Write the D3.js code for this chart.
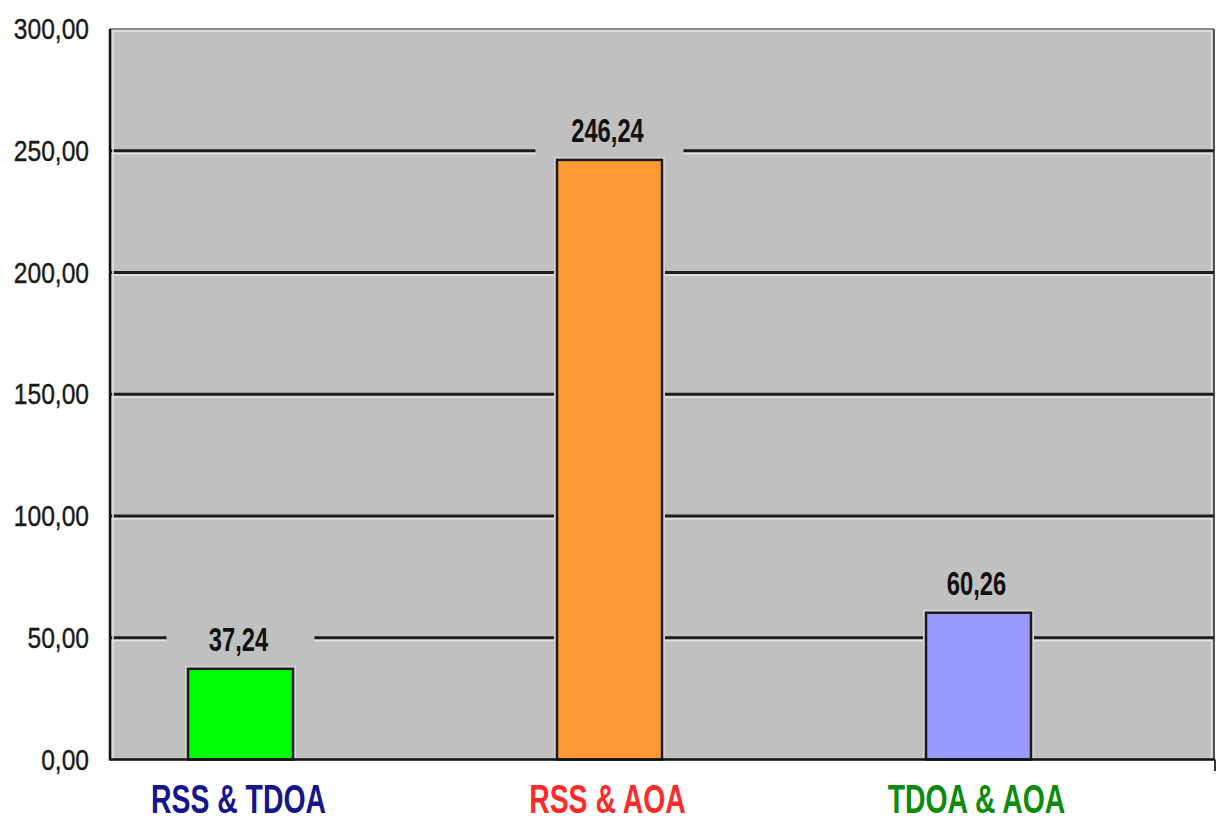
<!DOCTYPE html>
<html>
<head>
<meta charset="utf-8">
<script src="https://cdn.jsdelivr.net/npm/d3@7"></script>
<style>
  html, body { margin: 0; padding: 0; background: #fff; }
  svg { display: block; }
</style>
</head>
<body>
<svg id="chart" width="1217" height="823"></svg>
<script>
// Localization method pairs and their measured values
const categories = ["RSS & TDOA", "RSS & AOA", "TDOA & AOA"];
const values = [37.24, 246.24, 60.26];
const barColors = ["#00ff00", "#ff9933", "#9999ff"];
const labelColors = ["#16168c", "#ff2b2b", "#0e8a0e"];
const yTicks = [0, 50, 100, 150, 200, 250, 300];

const fmt = v => v.toFixed(2).replace(".", ",");

const svg = d3.select("#chart");
const plotLeft = 110, plotRight = 1214, plotTop = 29, plotBottom = 759.5;

const y = d3.scaleLinear().domain([0, 300]).range([plotBottom, plotTop]);
const x = d3.scalePoint().domain(categories).range([240.5, 978.5]);
const barW = 105;

// plot background
svg.append("rect")
  .attr("x", plotLeft).attr("y", plotTop)
  .attr("width", plotRight - plotLeft).attr("height", plotBottom - plotTop)
  .attr("fill", "#c0c0c0");

// frame: top and right borders with inner highlights
svg.append("line").attr("x1", plotLeft).attr("x2", plotRight).attr("y1", plotTop).attr("y2", plotTop)
  .attr("stroke", "#8a8a8a").attr("stroke-width", 2);
svg.append("line").attr("x1", plotLeft).attr("x2", plotRight - 2).attr("y1", plotTop + 2).attr("y2", plotTop + 2)
  .attr("stroke", "#e4e4e4").attr("stroke-width", 1.5);
svg.append("line").attr("x1", plotRight).attr("x2", plotRight).attr("y1", plotTop).attr("y2", plotBottom)
  .attr("stroke", "#555").attr("stroke-width", 2);
svg.append("line").attr("x1", plotRight - 2.5).attr("x2", plotRight - 2.5).attr("y1", plotTop + 2).attr("y2", plotBottom)
  .attr("stroke", "#e4e4e4").attr("stroke-width", 1.5);

// horizontal grid lines (engraved look)
const grid = svg.append("g");
yTicks.filter(t => t > 0 && t < 300).forEach(t => {
  grid.append("line").attr("x1", plotLeft).attr("x2", plotRight).attr("y1", y(t)).attr("y2", y(t))
    .attr("stroke", "#1e1e1e").attr("stroke-width", 2.8);
  grid.append("line").attr("x1", plotLeft + 2).attr("x2", plotRight - 2).attr("y1", y(t) + 2.8).attr("y2", y(t) + 2.8)
    .attr("stroke", "#e6e6e6").attr("stroke-width", 1.5);
});

// left axis highlight
svg.append("line").attr("x1", plotLeft + 3).attr("x2", plotLeft + 3).attr("y1", plotTop + 2).attr("y2", plotBottom)
  .attr("stroke", "#e4e4e4").attr("stroke-width", 1.5);

// value label backgrounds hiding the grid behind the labels
svg.append("g").selectAll("rect").data(values).join("rect")
  .attr("x", (d, i) => x(categories[i]) - 74)
  .attr("y", d => y(d) - 52)
  .attr("width", 148)
  .attr("height", 50)
  .attr("fill", "#c0c0c0");

// bars: light halo, then filled rect with dark outline
const bars = svg.append("g");
bars.selectAll("rect.halo").data(values).join("rect")
  .attr("class", "halo")
  .attr("x", (d, i) => x(categories[i]) - barW / 2 - 3)
  .attr("y", d => y(d) - 3)
  .attr("width", barW + 6)
  .attr("height", d => plotBottom - y(d) + 3)
  .attr("fill", "#d4d4d4");
bars.selectAll("rect.bar").data(values).join("rect")
  .attr("class", "bar")
  .attr("x", (d, i) => x(categories[i]) - barW / 2)
  .attr("y", d => y(d))
  .attr("width", barW)
  .attr("height", d => plotBottom - y(d))
  .attr("fill", (d, i) => barColors[i])
  .attr("stroke", "#1a1a1a")
  .attr("stroke-width", 2.5);

// left axis and baseline
svg.append("line").attr("x1", plotLeft).attr("x2", plotLeft).attr("y1", plotTop).attr("y2", plotBottom + 1)
  .attr("stroke", "#111").attr("stroke-width", 2.5);
svg.append("line").attr("x1", plotLeft).attr("x2", plotRight + 1).attr("y1", plotBottom).attr("y2", plotBottom)
  .attr("stroke", "#111").attr("stroke-width", 2.5);
svg.append("line").attr("x1", plotRight + 1).attr("x2", plotRight + 1).attr("y1", plotBottom).attr("y2", 771)
  .attr("stroke", "#333").attr("stroke-width", 2);

// y tick labels
svg.append("g").selectAll("text").data(yTicks).join("text")
  .attr("transform", d => `translate(89,${y(d) + 10}) scale(0.82,1)`)
  .attr("text-anchor", "end")
  .attr("font-family", "Liberation Sans, Arial, sans-serif")
  .attr("font-size", 30)
  .attr("fill", "#1a1a1a")
  .attr("stroke", "#1a1a1a")
  .attr("stroke-width", 0.4)
  .text(d => fmt(d));

// value labels above bars
svg.append("g").selectAll("text").data(values).join("text")
  .attr("transform", (d, i) => `translate(${x(categories[i]) - 2},${y(d) - 18}) scale(0.72,1)`)
  .attr("text-anchor", "middle")
  .attr("font-family", "Liberation Sans, Arial, sans-serif")
  .attr("font-weight", "bold")
  .attr("font-size", 33)
  .attr("fill", "#111")
  .text(d => fmt(d));

// category labels
svg.append("g").selectAll("text").data(categories).join("text")
  .attr("transform", (d, i) => `translate(${x(d) - 2},813) scale(0.71,1)`)
  .attr("text-anchor", "middle")
  .attr("font-family", "Liberation Sans, Arial, sans-serif")
  .attr("font-weight", "bold")
  .attr("font-size", 40)
  .attr("fill", (d, i) => labelColors[i])
  .text(d => d);
</script>
</body>
</html>
